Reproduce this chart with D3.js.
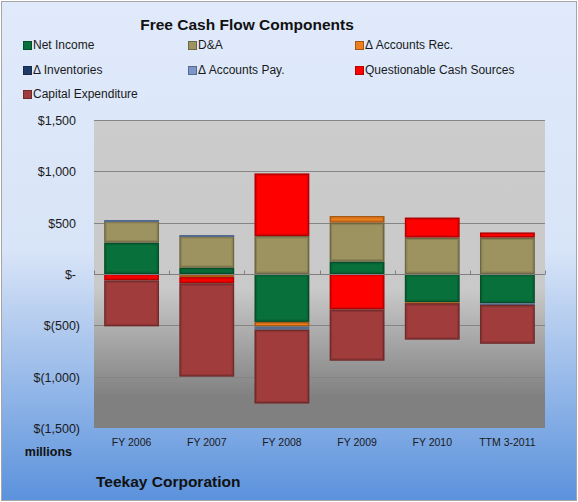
<!DOCTYPE html>
<html>
<head>
<meta charset="utf-8">
<script src="https://cdn.jsdelivr.net/npm/d3@7"></script>
<style>
  body { margin: 0; background: #fff; }
  svg { display: block; font-family: "Liberation Sans", Arial, sans-serif; }
</style>
</head>
<body>
<div id="chart-area"></div>
<script>
// values in $ millions
var categories = ['FY 2006', 'FY 2007', 'FY 2008', 'FY 2009', 'FY 2010', 'TTM 3-2011'];
var netIncome = [305, 60, -467, 120, -275, -285];
var depAmort = [211, 310, 370, 380, 355, 355];
var accountsRec = [0, -30, -45, 65, -10, 0];
var inventories = [0, 0, 0, 0, 0, 0];
var accountsPay = [10, 10, -30, 0, 0, -15];
var questionable = [-62, -60, 610, -345, 195, 50];
var capex = [-448, -910, -720, -500, -355, -380];
var yTicks = [1500, 1000, 500, 0, -500, -1000, -1500];

var seriesNames = ['Net Income', 'D&A', '\u0394 Accounts Rec.', '\u0394 Inventories',
    '\u0394 Accounts Pay.', 'Questionable Cash Sources', 'Capital Expenditure'];
var seriesValues = [netIncome, depAmort, accountsRec, inventories, accountsPay, questionable, capex];
var colors = ['#08703a', '#9c9360', '#ee7f1c', '#1f3a68', '#7b97c9', '#ff0000', '#a03c3c'];

var W = 578, H = 502;
var margin = { top: 120, right: 33, bottom: 74, left: 94 };
var width = W - margin.left - margin.right;
var height = H - margin.top - margin.bottom;

var svg = d3.select('#chart-area')
    .append('svg')
    .attr('width', W)
    .attr('height', H);

var defs = svg.append('defs');
var bgGrad = defs.append('linearGradient')
    .attr('id', 'bg').attr('x1', 0).attr('y1', 0).attr('x2', 0).attr('y2', 1);
bgGrad.append('stop').attr('offset', '0%').attr('stop-color', '#e0eafb');
bgGrad.append('stop').attr('offset', '50%').attr('stop-color', '#d8e4f7');
bgGrad.append('stop').attr('offset', '100%').attr('stop-color', '#5b92dc');

var plotGrad = defs.append('linearGradient')
    .attr('id', 'plotbg').attr('x1', 0).attr('y1', 0).attr('x2', 0).attr('y2', 1);
plotGrad.append('stop').attr('offset', '0%').attr('stop-color', '#cccccc');
plotGrad.append('stop').attr('offset', '55%').attr('stop-color', '#c9c9c9');
plotGrad.append('stop').attr('offset', '90%').attr('stop-color', '#808080');
plotGrad.append('stop').attr('offset', '100%').attr('stop-color', '#808080');

svg.append('rect')
    .attr('x', 1.5).attr('y', 1.5)
    .attr('width', W - 3).attr('height', H - 3)
    .attr('fill', 'url(#bg)')
    .attr('stroke', '#a6a6a6');

// title
svg.append('text')
    .attr('x', 247).attr('y', 30)
    .attr('text-anchor', 'middle')
    .attr('font-size', 15.5).attr('font-weight', 'bold')
    .attr('fill', '#111')
    .text('Free Cash Flow Components');

// legend
var legendX = [23, 188, 355];
var legendY = [45, 70, 94];
var legend = svg.append('g');
seriesNames.forEach(function (name, i) {
    var lx = legendX[i % 3], ly = legendY[Math.floor(i / 3)];
    legend.append('rect')
        .attr('x', lx + 0.5).attr('y', ly - 3.5)
        .attr('width', 8).attr('height', 8)
        .attr('fill', colors[i])
        .attr('stroke', d3.color(colors[i]).darker(1))
        .attr('stroke-width', 1);
    legend.append('text')
        .attr('x', lx + 10).attr('y', ly + 4)
        .attr('font-size', 12).attr('fill', '#1a1a1a')
        .text(name);
});

var graph = svg.append('g')
    .attr('transform', 'translate(' + margin.left + ',' + margin.top + ')');

var x = d3.scaleBand()
    .domain(categories)
    .range([0, width])
    .paddingInner(0.27)
    .paddingOuter(0.135);

var y = d3.scaleLinear()
    .domain([-1500, 1500])
    .range([height, 0]);

graph.append('rect')
    .attr('width', width).attr('height', height)
    .attr('fill', 'url(#plotbg)');

// gridlines
graph.selectAll('.grid')
    .data(yTicks.filter(function (d) { return d > -1500; }))
    .enter().append('line')
    .attr('x1', 0).attr('x2', width)
    .attr('y1', function (d) { return Math.round(y(d)) + 0.5; })
    .attr('y2', function (d) { return Math.round(y(d)) + 0.5; })
    .attr('stroke', '#858585').attr('stroke-width', 1);

// y axis labels in accounting style
function fmt(d) {
    if (d === 0) return '$-';
    var s = d3.format(',')(Math.abs(d));
    return d < 0 ? '$(' + s + ')' : '$' + s;
}
svg.append('g').selectAll('text')
    .data(yTicks)
    .enter().append('text')
    .attr('x', function (d) { return d < 0 ? 80 : 76; })
    .attr('y', function (d) { return margin.top + y(d) + 5; })
    .attr('text-anchor', 'end')
    .attr('font-size', 12.5).attr('fill', '#1a1a1a')
    .text(fmt);

// stacked bars
var table = categories.map(function (c, i) {
    var row = { cat: c };
    seriesNames.forEach(function (n, j) { row[n] = seriesValues[j][i]; });
    return row;
});
var stack = d3.stack()
    .keys(seriesNames)
    .offset(d3.stackOffsetDiverging);
var layers = stack(table);

layers.forEach(function (layer, j) {
    var col = colors[j];
    var segs = layer.filter(function (d) { return d[1] !== d[0]; });
    var g = graph.append('g');
    // bevel: dark rim, then lighter inner edge
    g.selectAll('rect.rim')
        .data(segs)
        .enter().append('rect')
        .attr('x', function (d) { return x(d.data.cat) + 0.75; })
        .attr('y', function (d) { return y(Math.max(d[0], d[1])) + 0.75; })
        .attr('width', x.bandwidth() - 1.5)
        .attr('height', function (d) { return Math.max(0.5, Math.abs(y(d[0]) - y(d[1])) - 1.5); })
        .attr('fill', col)
        .attr('stroke', d3.color(col).darker(1))
        .attr('stroke-width', 1.5);
    g.selectAll('rect.hi')
        .data(segs.filter(function (d) { return Math.abs(y(d[0]) - y(d[1])) > 6; }))
        .enter().append('rect')
        .attr('x', function (d) { return x(d.data.cat) + 2; })
        .attr('y', function (d) { return y(Math.max(d[0], d[1])) + 2; })
        .attr('width', x.bandwidth() - 4)
        .attr('height', function (d) { return Math.abs(y(d[0]) - y(d[1])) - 4; })
        .attr('fill', 'none')
        .attr('stroke', d3.color(col).darker(0.35))
        .attr('stroke-width', 1);
});

// zero axis with small category ticks
var y0 = Math.round(y(0)) + 0.5;
graph.append('line')
    .attr('x1', 0).attr('x2', width)
    .attr('y1', y0).attr('y2', y0)
    .attr('stroke', '#7f7f7f').attr('stroke-width', 1.2);
graph.selectAll('.tick')
    .data(d3.range(categories.length + 1))
    .enter().append('line')
    .attr('x1', function (d) { return Math.round(d * width / categories.length) + 0.5; })
    .attr('x2', function (d) { return Math.round(d * width / categories.length) + 0.5; })
    .attr('y1', y0 - 4).attr('y2', y0)
    .attr('stroke', '#7f7f7f');

// category labels
graph.selectAll('.xlab')
    .data(categories)
    .enter().append('text')
    .attr('x', function (d) { return x(d) + x.bandwidth() / 2; })
    .attr('y', height + 18)
    .attr('text-anchor', 'middle')
    .attr('font-size', 10.5).attr('fill', '#1a1a1a')
    .text(function (d) { return d; });

svg.append('text')
    .attr('x', 72).attr('y', 456)
    .attr('text-anchor', 'end')
    .attr('font-size', 12.5).attr('font-weight', 'bold')
    .attr('fill', '#111')
    .text('millions');

svg.append('text')
    .attr('x', 96).attr('y', 487)
    .attr('font-size', 15.5).attr('font-weight', 'bold')
    .attr('fill', '#111')
    .text('Teekay Corporation');
</script>
</body>
</html>
